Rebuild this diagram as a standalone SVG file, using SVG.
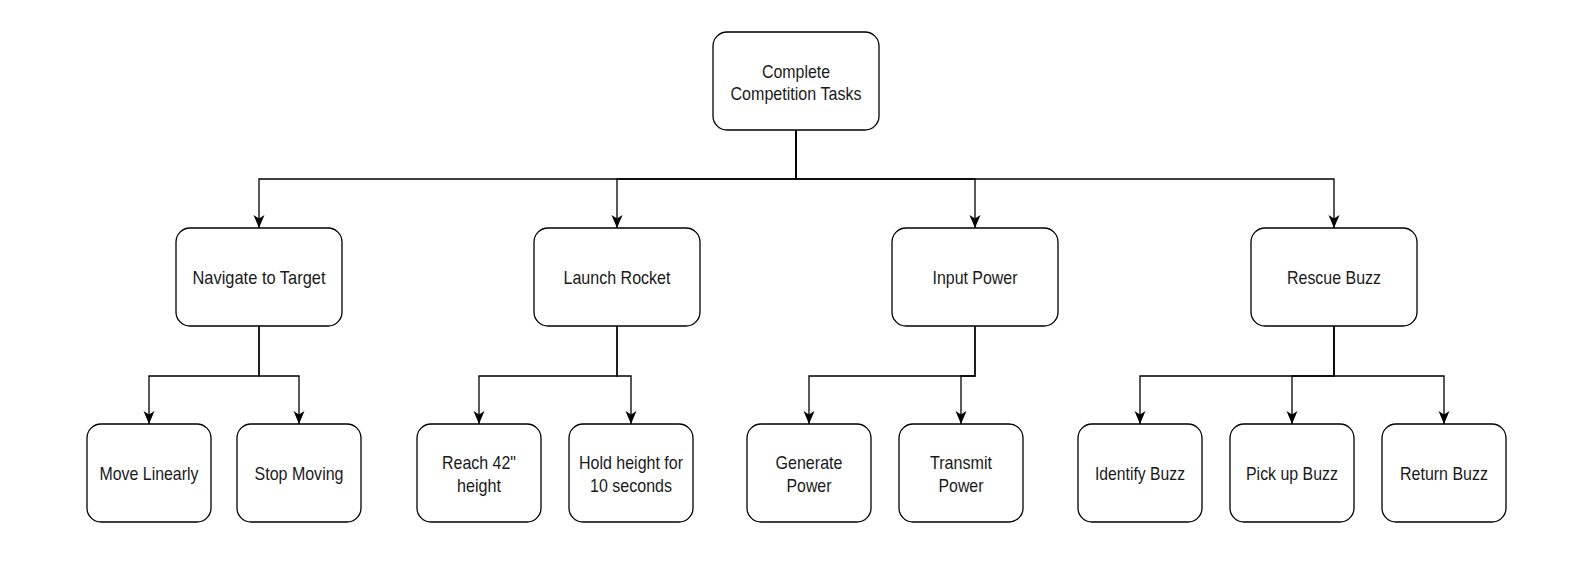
<svg xmlns="http://www.w3.org/2000/svg" width="1578" height="562" viewBox="0 0 1578 562">
<defs>
<style>
.box{fill:#fff;stroke:#000;stroke-width:1.3}
.lbl{font-family:"Liberation Sans",Arial,sans-serif;font-size:18.5px;fill:#1a1a1a;text-anchor:middle}
.con{fill:none;stroke:#000;stroke-width:1.3}
</style>
<marker id="arr" viewBox="-14 -6 15 12" markerWidth="15" markerHeight="12" refX="0" refY="0" orient="auto" markerUnits="userSpaceOnUse">
<path d="M0,0 L-13,-5.5 L-9.5,0 L-13,5.5 Z" fill="#000"/>
</marker>
</defs>
<rect width="1578" height="562" fill="#fff"/>
<g id="connectors">
<path class="con" marker-end="url(#arr)" d="M796,130 V179 H259 V228"/>
<path class="con" marker-end="url(#arr)" d="M796,130 V179 H617 V228"/>
<path class="con" marker-end="url(#arr)" d="M796,130 V179 H975 V228"/>
<path class="con" marker-end="url(#arr)" d="M796,130 V179 H1334 V228"/>
<path class="con" marker-end="url(#arr)" d="M259,326 V376 H149 V424"/>
<path class="con" marker-end="url(#arr)" d="M259,326 V376 H299 V424"/>
<path class="con" marker-end="url(#arr)" d="M617,326 V376 H479 V424"/>
<path class="con" marker-end="url(#arr)" d="M617,326 V376 H631 V424"/>
<path class="con" marker-end="url(#arr)" d="M975,326 V376 H809 V424"/>
<path class="con" marker-end="url(#arr)" d="M975,326 V376 H961 V424"/>
<path class="con" marker-end="url(#arr)" d="M1334,326 V376 H1140 V424"/>
<path class="con" marker-end="url(#arr)" d="M1334,326 V376 H1292 V424"/>
<path class="con" marker-end="url(#arr)" d="M1334,326 V376 H1444 V424"/>
</g>
<g id="root"><rect class="box" x="713" y="32" width="166" height="98" rx="14"/><text class="lbl" x="796" y="78" textLength="68" lengthAdjust="spacingAndGlyphs">Complete</text><text class="lbl" x="796" y="100" textLength="131" lengthAdjust="spacingAndGlyphs">Competition Tasks</text></g>
<g id="navigate"><rect class="box" x="176" y="228" width="166" height="98" rx="14"/><text class="lbl" x="259" y="284" textLength="133" lengthAdjust="spacingAndGlyphs">Navigate to Target</text></g>
<g id="launch"><rect class="box" x="534" y="228" width="166" height="98" rx="14"/><text class="lbl" x="617" y="284" textLength="107" lengthAdjust="spacingAndGlyphs">Launch Rocket</text></g>
<g id="input"><rect class="box" x="892" y="228" width="166" height="98" rx="14"/><text class="lbl" x="975" y="284" textLength="85" lengthAdjust="spacingAndGlyphs">Input Power</text></g>
<g id="rescue"><rect class="box" x="1251" y="228" width="166" height="98" rx="14"/><text class="lbl" x="1334" y="284" textLength="94" lengthAdjust="spacingAndGlyphs">Rescue Buzz</text></g>
<g id="move"><rect class="box" x="87" y="424" width="124" height="98" rx="14"/><text class="lbl" x="149" y="480" textLength="99" lengthAdjust="spacingAndGlyphs">Move Linearly</text></g>
<g id="stop"><rect class="box" x="237" y="424" width="124" height="98" rx="14"/><text class="lbl" x="299" y="480" textLength="89" lengthAdjust="spacingAndGlyphs">Stop Moving</text></g>
<g id="reach"><rect class="box" x="417" y="424" width="124" height="98" rx="14"/><text class="lbl" x="479" y="469" textLength="74" lengthAdjust="spacingAndGlyphs">Reach 42"</text><text class="lbl" x="479" y="492" textLength="44" lengthAdjust="spacingAndGlyphs">height</text></g>
<g id="hold"><rect class="box" x="569" y="424" width="124" height="98" rx="14"/><text class="lbl" x="631" y="469" textLength="104" lengthAdjust="spacingAndGlyphs">Hold height for</text><text class="lbl" x="631" y="492" textLength="82" lengthAdjust="spacingAndGlyphs">10 seconds</text></g>
<g id="generate"><rect class="box" x="747" y="424" width="124" height="98" rx="14"/><text class="lbl" x="809" y="469" textLength="67" lengthAdjust="spacingAndGlyphs">Generate</text><text class="lbl" x="809" y="492" textLength="45" lengthAdjust="spacingAndGlyphs">Power</text></g>
<g id="transmit"><rect class="box" x="899" y="424" width="124" height="98" rx="14"/><text class="lbl" x="961" y="469" textLength="62" lengthAdjust="spacingAndGlyphs">Transmit</text><text class="lbl" x="961" y="492" textLength="45" lengthAdjust="spacingAndGlyphs">Power</text></g>
<g id="identify"><rect class="box" x="1078" y="424" width="124" height="98" rx="14"/><text class="lbl" x="1140" y="480" textLength="90" lengthAdjust="spacingAndGlyphs">Identify Buzz</text></g>
<g id="pickup"><rect class="box" x="1230" y="424" width="124" height="98" rx="14"/><text class="lbl" x="1292" y="480" textLength="92" lengthAdjust="spacingAndGlyphs">Pick up Buzz</text></g>
<g id="return"><rect class="box" x="1382" y="424" width="124" height="98" rx="14"/><text class="lbl" x="1444" y="480" textLength="88" lengthAdjust="spacingAndGlyphs">Return Buzz</text></g>
</svg>
